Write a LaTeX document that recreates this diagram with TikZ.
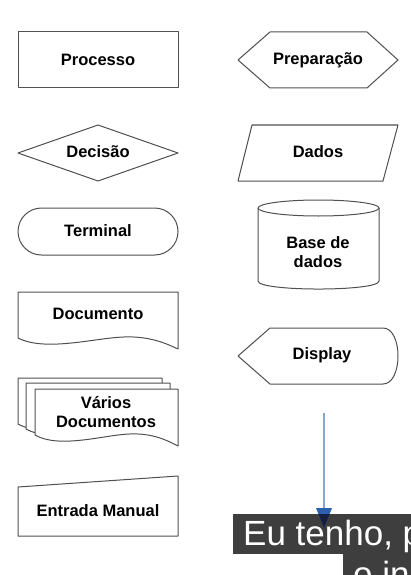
\documentclass[tikz,border=0pt]{standalone}
\usepackage{fontspec}
\setmainfont{Liberation Sans}
\usetikzlibrary{shapes.geometric,arrows.meta}
\definecolor{linegray}{RGB}{80,80,80}
\definecolor{capgray}{RGB}{62,62,62}
\definecolor{arrowline}{RGB}{135,165,208}
\definecolor{tipblue}{RGB}{45,95,175}
\definecolor{tipnavy}{RGB}{22,32,62}
\begin{document}
\begin{tikzpicture}[x=1pt,y=-1pt,
  shp/.style={draw=linegray, line width=1pt, fill=white, line join=round},
  lbl/.style={font=\bfseries\fontsize{16.5}{19.5}\selectfont, align=center, text=black, inner sep=0pt},
  captxt/.style={font=\fontsize{35}{40}\selectfont, text=white, anchor=base west, inner sep=0pt},
  arrline/.style={draw=arrowline, line width=2pt},
  pics/docsheet/.style={code={
    \draw[shp] (0,0) -- (#1,0) -- (#1,57)
      .. controls ({0.92*#1},51) and ({0.82*#1},44) .. ({0.66*#1},45)
      .. controls ({0.48*#1},46) and ({0.17*#1},60) .. (0,46) -- cycle;
  }}]
\useasboundingbox (0,0) rectangle (411,575);
\clip (0,0) rectangle (411,575);

% Left column
\draw[shp] (18,32) rectangle (178,88);
\node[lbl] (proc) at (98,60) {Processo};

\draw[shp] (18,153) -- (98,125) -- (178,153) -- (98,181) -- cycle;
\node[lbl] (dec) at (98,152) {Decisão};

\draw[shp, rounded corners=23.5pt] (18,208) rectangle (178,255);
\node[lbl] (term) at (98,231) {Terminal};

\pic at (18,292) {docsheet=160};
\node[lbl] (doc) at (98,314) {Documento};

\pic at (18,378) {docsheet=144};
\pic at (26,383) {docsheet=144};
\pic at (35,389) {docsheet=143};
\node[lbl] (vdoc) at (106,412) {Vários\\Documentos};

\draw[shp] (18,487) -- (178,476) -- (178,536) -- (18,536) -- cycle;
\node[lbl] (man) at (98,511) {Entrada Manual};

% Right column
\draw[shp] (238,60) -- (270,32) -- (367,32) -- (398,60) -- (367,88) -- (270,88) -- cycle;
\node[lbl] (prep) at (318,60) {Preparação};

\draw[shp] (252,125) -- (398,125) -- (383,181) -- (238,181) -- cycle;
\node[lbl] (dados) at (318,152) {Dados};

\draw[shp] (258,208) -- (258,281) .. controls (258,291.7) and (379,291.7) .. (379,281) -- (379,208);
\draw[shp] (318.5,208) ellipse [x radius=60.5, y radius=8];
\node[lbl] (bd) at (318,252) {Base de\\dados};

\draw[shp] (238,356) -- (270,328) -- (383,328) .. controls (403,328) and (403,384) .. (383,384) -- (270,384) -- cycle;
\node[lbl] (disp) at (322,355) {Display};

% Caption boxes
\fill[capgray] (233,514) rectangle (420,554);
\fill[capgray] (343,553.5) rectangle (420,585);

% Arrow
\coordinate (arrS) at (324,413);
\coordinate (arrB) at (324,509);
\coordinate (arrT) at (324,528);
\draw[arrline] (arrS) -- (arrB);
\fill[tipblue] (316,508) -- (332,508) -- (arrT) -- cycle;
\begin{scope}
  \clip (233,514) rectangle (420,554);
  \fill[tipnavy] (316,508) -- (332,508) -- (arrT) -- cycle;
\end{scope}

\node[captxt] (cap1) at (243,545) {Eu tenho, po};
\node[captxt] (cap2) at (353,586) {o ini};
\end{tikzpicture}
\end{document}
